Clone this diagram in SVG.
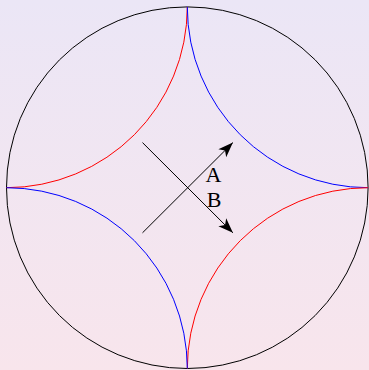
<svg xmlns="http://www.w3.org/2000/svg" width="369" height="370" viewBox="0 0 369 370">
<defs>
<linearGradient id="bg" x1="0" y1="0" x2="0" y2="1">
<stop offset="0" stop-color="#ebe6f6"/>
<stop offset="1" stop-color="#f8e5ec"/>
</linearGradient>
<marker id="arr" markerUnits="userSpaceOnUse" markerWidth="20" markerHeight="20" viewBox="-16 -8 18 16" refX="0" refY="0" orient="auto">
<path d="M0,0 L-13.5,-5 L-10,0 L-13.5,5 Z" fill="#000"/>
</marker>
<style>
.ln{fill:none;stroke-width:1}
.lbl{font-family:"Liberation Serif","DejaVu Serif",serif;font-size:22px;fill:#000;text-anchor:middle}
</style>
</defs>
<rect width="369" height="370" fill="url(#bg)"/>
<g id="circle"><circle cx="187.3" cy="187.7" r="180.8" class="ln" stroke="#000"/></g>
<g id="arcs">
<path id="arc-tl" class="ln" stroke="#f00" d="M187.3,6.9 A180.8,180.8 0 0 1 6.5,187.7"/>
<path id="arc-tr" class="ln" stroke="#00f" d="M187.3,6.9 A180.8,180.8 0 0 0 368.1,187.7"/>
<path id="arc-br" class="ln" stroke="#f00" d="M368.1,187.7 A180.8,180.8 0 0 0 187.3,368.5"/>
<path id="arc-bl" class="ln" stroke="#00f" d="M6.5,187.7 A180.8,180.8 0 0 1 187.3,368.5"/>
</g>
<g id="connectors">
<line class="ln" stroke="#000" x1="142.5" y1="232.8" x2="232.9" y2="142.6" marker-end="url(#arr)"/>
<line class="ln" stroke="#000" x1="142.5" y1="142.6" x2="232.9" y2="232.8" marker-end="url(#arr)"/>
</g>
<g id="labels">
<text class="lbl" x="213.5" y="181.5">A</text>
<text class="lbl" x="214" y="206.5">B</text>
</g>
</svg>
